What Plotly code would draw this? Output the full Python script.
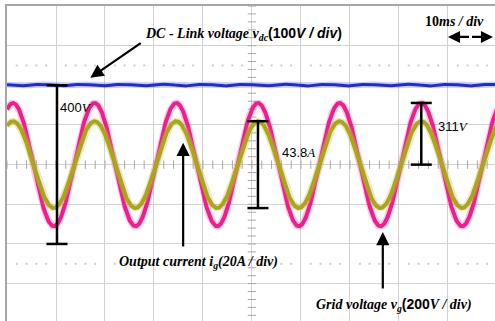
import numpy as np
import plotly.graph_objects as go

# ---- scope settings (10 x 8 divisions) ----
TIME_PER_DIV_MS = 10.0
X_RANGE_MS = [0.0, 99.6]
Y_RANGE_DIV = [-3.943, 4.0]

# ---- measured channel values ----
channels = ["DC-link voltage", "Grid voltage", "Output current"]
volts_per_div = [100.0, 200.0, 20.0]          # V/div, V/div, A/div
ground_div = [-2.0, 0.0, 0.0]                 # channel ground marker, in divisions
dc_link_level_v = 400.0                       # V
grid_peak_v = 311.0                           # V
current_pp_a = 43.8                           # A peak-to-peak
grid_freq_hz = 60.0
first_peak_ms = 1.22                          # time of first grid-voltage peak
dc_ripple_div = 0.05                          # small 120 Hz ripple on the DC link

t = np.arange(0.0, 100.0001, 0.05)
period_ms = 1000.0 / grid_freq_hz
phase = 2 * np.pi * (t - first_peak_ms) / period_ms

grid_v = grid_peak_v / volts_per_div[1] * np.cos(phase) + ground_div[1]
grid_i = (current_pp_a / 2) / volts_per_div[2] * np.cos(phase) + ground_div[2]
dc_level = ground_div[0] + dc_link_level_v / volts_per_div[0]
dc_v = dc_level + dc_ripple_div * (np.abs(np.sin(phase - 0.55)) - 0.5)

fig = go.Figure()

# graticule decorations: minor ticks on centre lines and dotted rows
minor_t = np.arange(0, 100.01, 2.0)
fig.add_trace(go.Scatter(x=minor_t, y=np.zeros_like(minor_t), mode="markers",
                         marker=dict(symbol="line-ns", size=6, line=dict(width=1, color="#a8a8a8")),
                         hoverinfo="skip", showlegend=False))
minor_y = np.arange(-4, 4.01, 0.2)
fig.add_trace(go.Scatter(x=np.full_like(minor_y, 50.0), y=minor_y, mode="markers",
                         marker=dict(symbol="line-ew", size=6, line=dict(width=1, color="#a8a8a8")),
                         hoverinfo="skip", showlegend=False))
dot_t = np.array([v for v in minor_t if v % 10 != 0])
for row in (2.5, -2.5):
    fig.add_trace(go.Scatter(x=dot_t, y=np.full_like(dot_t, row), mode="markers",
                             marker=dict(symbol="square", size=2, color="#cfcfcf"),
                             hoverinfo="skip", showlegend=False))

# waveforms: a soft halo under each trace stands in for the scope's noise band
def waveform(y, name, color, halo, width, halo_width):
    fig.add_trace(go.Scatter(x=t, y=y, mode="lines", line=dict(color=halo, width=halo_width),
                             opacity=0.35, hoverinfo="skip", showlegend=False))
    fig.add_trace(go.Scatter(x=t, y=y, mode="lines", name=name,
                             line=dict(color=color, width=width), showlegend=False))

waveform(dc_v, channels[0], "#1f2bd8", "#6f78e6", 3, 6)
waveform(grid_v, channels[1], "#ee1f8c", "#f070b0", 4, 7)
waveform(grid_i, channels[2], "#aaa618", "#c8c460", 4, 7)

# measurement brackets
def bracket(x, y0, y1):
    fig.add_trace(go.Scatter(x=[x, x], y=[y0, y1], mode="lines+markers",
                             line=dict(color="black", width=2.5),
                             marker=dict(symbol="line-ew", size=15, line=dict(width=2.5, color="black")),
                             hoverinfo="skip", showlegend=False))

bracket(10.2, ground_div[0], dc_level)
i_peak = (current_pp_a / 2) / volts_per_div[2]
bracket(first_peak_ms + 3 * period_ms, i_peak, i_peak - current_pp_a / volts_per_div[2])
bracket(first_peak_ms + 5 * period_ms, ground_div[1], grid_peak_v / volts_per_div[1])

serif = "Liberation Serif"
sans = "Liberation Sans"

def label(x, y, text, size=14, family=serif):
    fig.add_annotation(x=x, y=y, text=text, showarrow=False, xanchor="left", yanchor="middle",
                       font=dict(family=family, size=size, color="black"), borderpad=0)

def arrow(x, y, ax, ay, size=1.2):
    # arrow tip at (x, y), tail at (ax, ay)
    fig.add_annotation(x=x, y=y, ax=ax, ay=ay, xref="x", yref="y", axref="x", ayref="y",
                       text="", showarrow=True, arrowhead=2, arrowsize=size, arrowwidth=2.2,
                       arrowcolor="black")

label(10.6, 1.45, f'{dc_link_level_v:.0f}<span style="font-family:{serif}"><i>V</i></span>', 13, sans)
label(56.0, 0.30, f'{current_pp_a}<span style="font-family:{serif}"><i>A</i></span>', 13, sans)
label(87.8, 0.95, f'{grid_peak_v:.0f}<span style="font-family:{serif}"><i>V</i></span>', 13, sans)

label(28.0, 3.30,
      f'<b><i>DC - Link voltage v</i></b><sub><b><i>dc</i></b></sub>'
      f'<span style="font-family:{sans}"><b>({volts_per_div[0]:.0f}<i>V / div</i>)</b></span>', 14)
label(85.2, 3.60, f'<b>{TIME_PER_DIV_MS:.0f}<i>ms / div</i></b>', 14)
label(22.6, -2.48, f'<b><i>Output current i</i></b><sub><b><i>g</i></b></sub>'
      f'<b><i>({volts_per_div[2]:.0f}A / div)</i></b>', 14)
label(62.8, -3.54, f'<b><i>Grid voltage v</i></b><sub><b><i>g</i></b></sub>'
      f'<span style="font-family:{sans}"><b>({volts_per_div[1]:.0f}</b></span><b><i>V / div)</i></b>', 14)

arrow(17.0, 2.19, 27.6, 3.09)
arrow(35.95, 0.55, 35.95, -2.10)
arrow(76.7, -1.70, 76.7, -3.16)
# time-base double arrow
arrow(90.0, 3.22, 94.6, 3.22, 1.1)
arrow(99.2, 3.22, 94.6, 3.22, 1.1)

fig.update_layout(
    width=495, height=321,
    margin=dict(l=7, r=0, t=6, b=0),
    paper_bgcolor="white", plot_bgcolor="white",
    xaxis=dict(range=X_RANGE_MS, dtick=TIME_PER_DIV_MS, tick0=0, showgrid=True,
               gridcolor="#d2d2d2", gridwidth=1, zeroline=False, showticklabels=False,
               ticks="", showline=True, side="top", linecolor="#a6a6a6", linewidth=2),
    yaxis=dict(range=Y_RANGE_DIV, dtick=1, tick0=0, showgrid=True,
               gridcolor="#d2d2d2", gridwidth=1, zeroline=False, showticklabels=False,
               ticks="", showline=True, linecolor="#a6a6a6", linewidth=2),
)

fig.write_html("out.html")
